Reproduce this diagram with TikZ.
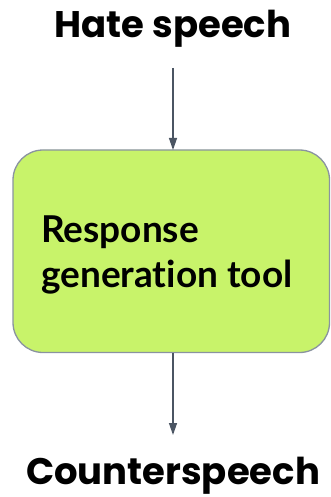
\documentclass[tikz,border=0pt]{standalone}
\usepackage{fontspec}
\setmainfont[Ligatures=NoCommon]{Lato}
\newfontfamily\headfont{Poppins}
\usetikzlibrary{arrows.meta}
\definecolor{boxgreen}{HTML}{C8F36A}
\definecolor{boxedge}{HTML}{8A93A0}
\definecolor{arrowgray}{HTML}{4B5563}
\tikzset{
  x=1pt, y=-1pt,
  heading/.style={font=\headfont\bfseries\fontsize{37}{40}\selectfont, inner sep=0pt, anchor=base},
  toolbox/.style={draw=boxedge, line width=1.3pt, fill=boxgreen, rounded corners=30pt},
  flow/.style={draw=arrowgray, line width=1.3pt, -{Triangle[length=12pt, width=8pt]}},
}
\begin{document}
\begin{tikzpicture}
  \useasboundingbox (0,0) rectangle (331,497);
  \node[heading] (hate) at (173,37.5) {Hate speech};
  \coordinate (hatefoot) at (173,68);
  \draw[toolbox] (13,150) rectangle (329.5,352.5);
  \coordinate (boxtop) at (173,150);
  \coordinate (boxbottom) at (173,352.5);
  \node[font=\bfseries\fontsize{37}{45}\selectfont, align=left, anchor=base west, inner sep=0pt] (tool) at (41,287)
    {Response\\generation tool};
  \node[heading] (counter) at (173,484.5) {Counterspeech};
  \coordinate (counterhead) at (173,435);
  \draw[flow] (hatefoot) -- (boxtop);
  \draw[flow] (boxbottom) -- (counterhead);
\end{tikzpicture}
\end{document}
